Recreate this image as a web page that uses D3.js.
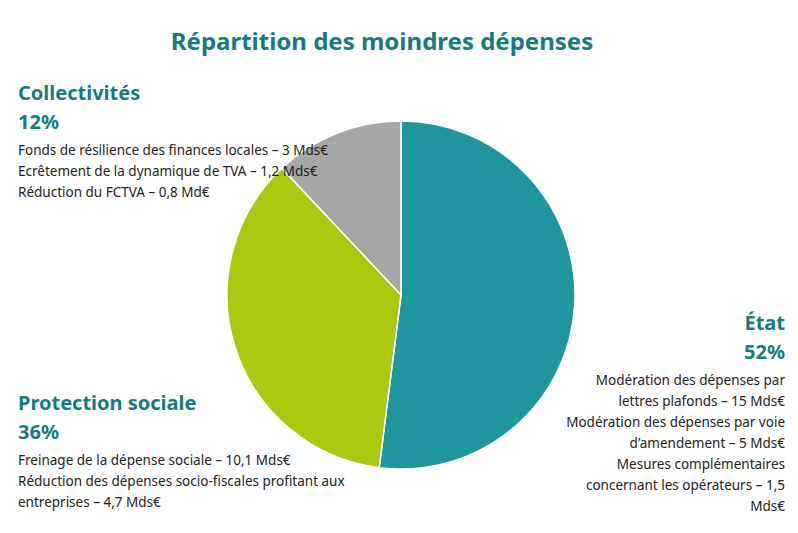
<!DOCTYPE html>
<html><head><meta charset="utf-8">
<script src="https://cdn.jsdelivr.net/npm/d3@7"></script>
<style>body{margin:0;background:#fff;font-family:"Noto Sans",sans-serif;}</style>
</head><body>
<script>
var categories = ['État', 'Protection sociale', 'Collectivités'];
var shares = [52, 36, 12];
var colors = ['#1f979e', '#abc80f', '#a6a6a6'];

var blocks = [
  {name: 'Collectivités', pct: '12%', x: 18, y: 100, anchor: 'start',
   lines: ['Fonds de résilience des finances locales – 3 Mds€', 'Ecrêtement de la dynamique de TVA – 1,2 Mds€', 'Réduction du FCTVA – 0,8 Md€']},
  {name: 'Protection sociale', pct: '36%', x: 18, y: 410, anchor: 'start',
   lines: ['Freinage de la dépense sociale – 10,1 Mds€', 'Réduction des dépenses socio-fiscales profitant aux', 'entreprises – 4,7 Mds€']},
  {name: 'État', pct: '52%', x: 785, y: 330, anchor: 'end',
   lines: ['Modération des dépenses par', 'lettres plafonds – 15 Mds€', 'Modération des dépenses par voie', 'd’amendement – 5 Mds€', 'Mesures complémentaires', 'concernant les opérateurs – 1,5', 'Mds€']}
];

var svg = d3.select('body').append('svg').attr('width', 798).attr('height', 533);

svg.append('text').attr('x', 382).attr('y', 50).attr('text-anchor', 'middle')
  .attr('font-size', 24).attr('font-weight', 'bold').attr('fill', '#157b7e')
  .text('Répartition des moindres dépenses');

var pie = d3.pie().sort(null);
var arc = d3.arc().innerRadius(0).outerRadius(174);
svg.append('g').attr('transform', 'translate(401,295)')
  .selectAll('path').data(pie(shares)).enter().append('path')
  .attr('d', arc).attr('fill', function(d, i) { return colors[i]; })
  .attr('stroke', '#fff').attr('stroke-width', 1.5);

blocks.forEach(function(b) {
  var g = svg.append('g').attr('text-anchor', b.anchor);
  g.append('text').attr('x', b.x).attr('y', b.y).attr('font-size', 20)
    .attr('font-weight', 'bold').attr('fill', '#157b7e').text(b.name);
  g.append('text').attr('x', b.x).attr('y', b.y + 29).attr('font-size', 20)
    .attr('font-weight', 'bold').attr('fill', '#157b7e').text(b.pct);
  g.selectAll('text.l').data(b.lines).enter().append('text').attr('class', 'l')
    .attr('x', b.x).attr('y', function(d, i) { return b.y + 55 + i * 21; })
    .attr('font-size', 13.5).attr('fill', '#222').text(function(d) { return d; });
});
</script>
</body></html>
